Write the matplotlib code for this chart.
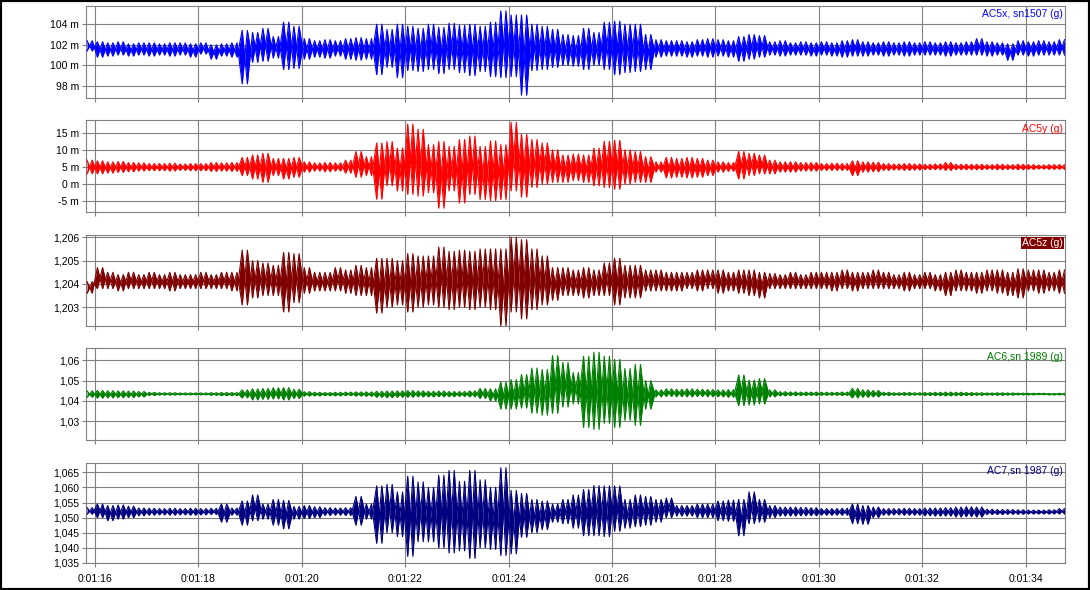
import numpy as np
import matplotlib
matplotlib.use('Agg')
import matplotlib.pyplot as plt
import matplotlib.ticker as ticker
from matplotlib.patches import Rectangle

plt.rcParams['font.family'] = ['Liberation Sans', 'DejaVu Sans']

# time of first 0.2 s bin (s), each bin holds the max / min
t0 = 75.8
bin_width = 0.2
x_ticks = [76, 78, 80, 82, 84, 86, 88, 90, 92, 94]

ac5x_hi = [102.4, 102.3, 102.2, 102.3, 102.1, 102.2, 102.2, 102.1, 102.2, 102.2,
           102.1, 102.2, 102.0, 102.1, 102.2, 103.4, 103.2, 103.6, 102.8, 104.2,
           103.8, 102.6, 102.4, 102.5, 102.4, 102.6, 102.7, 102.6, 104.0, 103.5,
           104.0, 103.8, 103.6, 104.0, 103.7, 104.1, 103.9, 104.0, 103.8, 104.2,
           105.3, 104.9, 104.9, 104.0, 103.8, 103.5, 103.0, 102.9, 103.6, 103.2,
           104.2, 104.3, 104.0, 104.0, 103.0, 102.5, 102.4, 102.4, 102.3, 102.5,
           102.6, 102.5, 102.4, 102.8, 103.0, 102.9, 102.3, 102.4, 102.2, 102.3,
           102.2, 102.3, 102.2, 102.4, 102.5, 102.3, 102.2, 102.3, 102.2, 102.3,
           102.2, 102.3, 102.2, 102.3, 102.2, 102.3, 102.6, 102.3, 102.2, 102.1,
           102.4, 102.3, 102.4, 102.3, 102.5]
ac5x_lo = [101.4, 100.8, 100.9, 101.0, 100.9, 101.0, 100.9, 101.0, 100.9, 101.0,
           100.8, 101.1, 100.6, 100.9, 100.8, 98.2, 100.3, 100.4, 100.7, 99.6,
           99.7, 100.6, 100.8, 100.7, 100.9, 100.6, 100.5, 100.6, 99.1, 99.8,
           98.8, 99.5, 99.4, 99.6, 99.2, 99.6, 99.3, 99.0, 99.4, 98.9,
           98.8, 98.9, 97.1, 99.5, 99.6, 99.8, 100.0, 99.9, 99.6, 100.0,
           99.6, 99.1, 99.3, 99.4, 99.6, 100.8, 100.9, 100.9, 100.8, 100.9,
           100.8, 100.9, 100.8, 100.4, 100.6, 100.8, 101.0, 100.9, 101.0, 101.0,
           100.9, 101.0, 100.9, 100.8, 100.9, 100.9, 101.0, 100.9, 101.0, 100.9,
           101.0, 101.0, 101.0, 100.9, 101.0, 101.0, 101.0, 100.9, 101.0, 100.5,
           101.0, 100.9, 101.0, 101.0, 101.0]

ac5y_hi = [7.0, 6.8, 6.5, 6.6, 6.3, 6.2, 6.0, 6.0, 6.1, 5.9,
           6.0, 6.0, 6.3, 6.2, 6.3, 7.8, 8.5, 9.0, 7.5, 7.5,
           7.8, 6.5, 6.2, 6.3, 6.2, 7.0, 9.5, 8.0, 12.0, 12.4,
           10.5, 17.5, 16.0, 11.5, 12.4, 11.0, 13.0, 14.0, 11.0, 12.6,
           11.5, 18.0, 14.5, 13.0, 12.0, 10.0, 8.5, 8.8, 8.5, 10.5,
           12.5, 12.8, 10.0, 9.5, 8.0, 6.5, 7.8, 7.5, 7.8, 7.5,
           7.0, 6.5, 6.3, 9.5, 9.0, 8.5, 7.0, 6.5, 6.5, 6.3,
           6.3, 6.0, 6.1, 6.0, 6.8, 6.5, 6.4, 6.0, 5.9, 6.0,
           5.9, 5.8, 5.9, 6.3, 5.8, 5.8, 5.8, 5.7, 5.8, 5.7,
           5.8, 5.7, 5.6, 5.7, 5.7]
ac5y_lo = [3.0, 3.0, 3.2, 3.4, 3.6, 3.8, 3.9, 3.9, 3.8, 4.0,
           3.9, 3.9, 3.7, 3.8, 3.7, 2.5, 1.5, 0.5, 2.5, 1.5,
           2.0, 3.5, 3.8, 3.6, 3.8, 3.2, 2.0, 2.5, -4.4, -0.5,
           -2.0, -3.0, -3.5, -2.5, -7.0, -2.0, -5.5, -3.0, -4.5, -4.8,
           -4.5, -2.0, -3.8, -1.0, 0.0, 0.5, 0.5, 1.0, 0.5, -0.5,
           -1.0, -1.5, 0.0, 0.5, 0.5, 3.5, 1.8, 2.0, 1.8, 2.0,
           2.5, 3.5, 3.7, 1.5, 2.5, 3.0, 3.0, 3.5, 3.5, 3.8,
           3.8, 4.0, 4.0, 4.0, 2.5, 3.5, 3.6, 4.0, 4.1, 4.0,
           4.1, 4.2, 4.2, 4.0, 4.2, 4.2, 4.2, 4.3, 4.2, 4.3,
           4.2, 4.3, 4.4, 4.3, 4.3]

ac5z_hi = [1.2041, 1.2047, 1.2045, 1.2044, 1.2045, 1.2044, 1.2045, 1.2044, 1.2045, 1.2044,
           1.2044, 1.2045, 1.2044, 1.2045, 1.2045, 1.20545, 1.2050, 1.2049, 1.2048, 1.20535,
           1.2053, 1.2047, 1.2045, 1.2045, 1.2047, 1.2046, 1.2048, 1.2047, 1.2051, 1.2051,
           1.2050, 1.2053, 1.2052, 1.2052, 1.20558, 1.2054, 1.20545, 1.2054, 1.2055, 1.2055,
           1.2055, 1.2060, 1.2059, 1.2055, 1.2052, 1.2047, 1.2047, 1.2046, 1.2047, 1.2046,
           1.2049, 1.2051, 1.2048, 1.2048, 1.2046, 1.2046, 1.2045, 1.2045, 1.2045, 1.2046,
           1.2046, 1.2046, 1.2045, 1.2046, 1.2046, 1.2045, 1.20445, 1.2044, 1.2045, 1.2044,
           1.2045, 1.2045, 1.2045, 1.2046, 1.2045, 1.2045, 1.2046, 1.2045, 1.2044, 1.2045,
           1.2044, 1.2045, 1.2044, 1.2045, 1.2046, 1.2045, 1.2045, 1.2046, 1.2046, 1.2045,
           1.20465, 1.2046, 1.2046, 1.2045, 1.2046]
ac5z_lo = [1.2036, 1.2038, 1.2038, 1.2037, 1.2038, 1.2038, 1.2038, 1.2038, 1.2037, 1.2038,
           1.2038, 1.2038, 1.2038, 1.2038, 1.2037, 1.2031, 1.2034, 1.2035, 1.2035, 1.2028,
           1.2032, 1.2036, 1.2037, 1.2037, 1.2037, 1.2036, 1.2035, 1.2035, 1.20275, 1.2030,
           1.2031, 1.2028, 1.2030, 1.2031, 1.2030, 1.2029, 1.2030, 1.2029, 1.2030, 1.2029,
           1.2022, 1.2028, 1.2025, 1.2029, 1.2031, 1.2033, 1.2035, 1.2035, 1.2034, 1.2035,
           1.2035, 1.2031, 1.2034, 1.2034, 1.2037, 1.2037, 1.2037, 1.2037, 1.2038, 1.2037,
           1.2038, 1.2036, 1.2037, 1.2036, 1.2035, 1.2034, 1.2038, 1.2038, 1.2038, 1.2038,
           1.2038, 1.2038, 1.2037, 1.2038, 1.2037, 1.2038, 1.2038, 1.2038, 1.2038, 1.2037,
           1.2038, 1.2038, 1.2037, 1.2035, 1.2037, 1.2037, 1.2036, 1.2037, 1.2036, 1.2035,
           1.2034, 1.2037, 1.2036, 1.2037, 1.2036]

ac6_hi = [1.0450, 1.0452, 1.0451, 1.0450, 1.0449, 1.0447, 1.0443, 1.0441, 1.0441, 1.0440,
          1.0440, 1.0440, 1.0441, 1.0442, 1.0442, 1.0455, 1.0460, 1.0462, 1.0465, 1.0466,
          1.0458, 1.0446, 1.0443, 1.0442, 1.0443, 1.0444, 1.0445, 1.0445, 1.0448, 1.0449,
          1.0450, 1.0452, 1.0450, 1.0448, 1.0449, 1.0447, 1.0447, 1.0450, 1.0462, 1.0460,
          1.0493, 1.0505, 1.0530, 1.0562, 1.0555, 1.0623, 1.0590, 1.0540, 1.0620, 1.0640,
          1.0620, 1.0605, 1.0560, 1.0580, 1.0500, 1.0455, 1.0460, 1.0458, 1.0460, 1.0458,
          1.0457, 1.0455, 1.0456, 1.0528, 1.0503, 1.0510, 1.0455, 1.0446, 1.0445, 1.0444,
          1.0444, 1.0443, 1.0443, 1.0444, 1.0462, 1.0455, 1.0452, 1.0443, 1.0441, 1.0442,
          1.0441, 1.0442, 1.0443, 1.0444, 1.0443, 1.0442, 1.0441, 1.0440, 1.0441, 1.0440,
          1.0439, 1.0438, 1.0438, 1.0437, 1.0438]
ac6_lo = [1.0418, 1.0414, 1.0415, 1.0416, 1.0417, 1.0420, 1.0427, 1.0429, 1.0429, 1.0430,
          1.0430, 1.0430, 1.0428, 1.0426, 1.0426, 1.0415, 1.0405, 1.0408, 1.0410, 1.0405,
          1.0412, 1.0424, 1.0425, 1.0426, 1.0425, 1.0426, 1.0424, 1.0423, 1.0418, 1.0416,
          1.0418, 1.0418, 1.0420, 1.0420, 1.0421, 1.0421, 1.0422, 1.0420, 1.0412, 1.0400,
          1.0360, 1.0360, 1.0365, 1.0340, 1.0330, 1.0339, 1.0370, 1.0385, 1.0270, 1.0260,
          1.0290, 1.0270, 1.0305, 1.0280, 1.0360, 1.0420, 1.0422, 1.0421, 1.0420, 1.0422,
          1.0421, 1.0420, 1.0418, 1.0377, 1.0380, 1.0385, 1.0420, 1.0425, 1.0426, 1.0427,
          1.0427, 1.0428, 1.0428, 1.0427, 1.0415, 1.0418, 1.0420, 1.0427, 1.0428, 1.0428,
          1.0429, 1.0427, 1.0426, 1.0425, 1.0426, 1.0427, 1.0428, 1.0429, 1.0428, 1.0429,
          1.0430, 1.0430, 1.0431, 1.0430, 1.0430]

ac7_hi = [1.0533, 1.0545, 1.0540, 1.0542, 1.0538, 1.0532, 1.0531, 1.0530, 1.0531, 1.0530,
          1.0531, 1.0530, 1.0531, 1.0545, 1.0532, 1.0555, 1.0575, 1.0545, 1.0560, 1.0557,
          1.0537, 1.0540, 1.0536, 1.0533, 1.0532, 1.0533, 1.0570, 1.0545, 1.0605, 1.0610,
          1.0585, 1.0637, 1.0618, 1.0600, 1.0640, 1.0656, 1.0620, 1.0656, 1.0625, 1.0600,
          1.0665, 1.0590, 1.0580, 1.0560, 1.0555, 1.0545, 1.0560, 1.0575, 1.0593, 1.0606,
          1.0605, 1.0605, 1.0560, 1.0575, 1.0570, 1.0560, 1.0565, 1.0540, 1.0540, 1.0545,
          1.0545, 1.0555, 1.0558, 1.0560, 1.0585, 1.0560, 1.0540, 1.0535, 1.0535, 1.0534,
          1.0533, 1.0530, 1.0530, 1.0531, 1.0545, 1.0540, 1.0535, 1.0530, 1.0530, 1.0531,
          1.0530, 1.0532, 1.0532, 1.0533, 1.0535, 1.0536, 1.0535, 1.0528, 1.0527, 1.0527,
          1.0526, 1.0525, 1.0525, 1.0526, 1.0530]
ac7_lo = [1.0511, 1.0500, 1.0490, 1.0495, 1.0500, 1.0506, 1.0508, 1.0509, 1.0508, 1.0509,
          1.0508, 1.0509, 1.0510, 1.0485, 1.0508, 1.0475, 1.0490, 1.0495, 1.0475, 1.0463,
          1.0495, 1.0497, 1.0500, 1.0507, 1.0508, 1.0507, 1.0475, 1.0495, 1.0415, 1.0450,
          1.0437, 1.0372, 1.0420, 1.0420, 1.0400, 1.0383, 1.0390, 1.0365, 1.0400, 1.0395,
          1.0375, 1.0380, 1.0435, 1.0450, 1.0460, 1.0485, 1.0480, 1.0465, 1.0440, 1.0440,
          1.0437, 1.0455, 1.0465, 1.0470, 1.0475, 1.0485, 1.0500, 1.0505, 1.0505, 1.0500,
          1.0500, 1.0490, 1.0488, 1.0440, 1.0480, 1.0485, 1.0500, 1.0505, 1.0505, 1.0506,
          1.0506, 1.0508, 1.0508, 1.0508, 1.0480, 1.0478, 1.0500, 1.0508, 1.0509, 1.0508,
          1.0508, 1.0506, 1.0505, 1.0505, 1.0502, 1.0503, 1.0502, 1.0510, 1.0510, 1.0511,
          1.0511, 1.0512, 1.0512, 1.0512, 1.0512]

grid_c = '#808080'


def fmt_milli(v, pos):
    return f"{v:.0f} m"


def fmt_comma(decimals):
    return lambda v, pos: f"{v:.{decimals}f}".replace('.', ',')


def fmt_time(v, pos):
    s = int(round(v))
    return f"0:{s // 60:02d}:{s % 60:02d}"


def main():

    fig = plt.figure(figsize=(10.9, 5.9), dpi=100)

    # hi, lo, colour, label, ylim, yticks, formatter, axes rect
    panels = [
        (ac5x_hi, ac5x_lo, '#0000ff', 'AC5x, sn1507 (g)', (96.8, 105.77),
         [98, 100, 102, 104], fmt_milli, [0.0789, 0.8334, 0.8982, 0.1564]),
        (ac5y_hi, ac5y_lo, '#ff0000', 'AC5y (g)', (-8.2, 18.6),
         [-5, 0, 5, 10, 15], fmt_milli, [0.0789, 0.6402, 0.8982, 0.1559]),
        (ac5z_hi, ac5z_lo, '#800000', 'AC5z (g)', (1.2022, 1.20611),
         [1.203, 1.204, 1.205, 1.206], fmt_comma(3), [0.0789, 0.4475, 0.8982, 0.1547]),
        (ac6_hi, ac6_lo, '#008000', 'AC6,sn 1989 (g)', (1.0208, 1.0659),
         [1.03, 1.04, 1.05, 1.06], fmt_comma(2), [0.0789, 0.2542, 0.8982, 0.1554]),
        (ac7_hi, ac7_lo, '#000080', 'AC7,sn 1987 (g)', (1.035, 1.06817),
         [1.035, 1.04, 1.045, 1.05, 1.055, 1.06, 1.065], fmt_comma(3),
         [0.0789, 0.0458, 0.8982, 0.1700]),
    ]

    for k, (hi, lo, c, label, ylim, yticks, yfmt, rect) in enumerate(panels):
        ax = fig.add_axes(rect)

        # max / min of each bin drawn as a dense trace: two opposite
        # zig-zags through the same samples, filled between them
        t = t0 + bin_width * np.arange(len(hi))
        x = np.empty(2 * len(hi))
        ya = np.empty(2 * len(hi))
        yb = np.empty(2 * len(hi))
        x[0::2] = t + 0.05
        x[1::2] = t + 0.15
        ya[0::2] = hi
        ya[1::2] = lo
        yb[0::2] = lo
        yb[1::2] = hi
        ax.fill_between(x, ya, yb, color=c, lw=0, zorder=2)
        ax.plot(x, ya, color=c, lw=0.8, zorder=3)
        ax.plot(x, yb, color=c, lw=0.8, zorder=3)

        ax.set_xlim(75.83, 94.76)
        ax.set_ylim(*ylim)
        ax.set_xticks(x_ticks)
        ax.set_yticks(yticks)
        ax.yaxis.set_major_formatter(ticker.FuncFormatter(yfmt))
        if k == len(panels) - 1:
            ax.xaxis.set_major_formatter(ticker.FuncFormatter(fmt_time))
        else:
            ax.set_xticklabels([])

        ax.grid(True, color=grid_c, lw=0.8)
        ax.set_axisbelow(True)
        for s in ax.spines.values():
            s.set_color(grid_c)
            s.set_linewidth(0.8)
        ax.tick_params(direction='out', length=3, width=0.8, color=grid_c,
                       labelsize=7.5, pad=2)
        ax.tick_params(axis='x', pad=5)

        if label == 'AC5z (g)':
            ax.text(0.998, 0.965, label, transform=ax.transAxes, ha='right', va='top',
                    color='white', fontsize=7.5, zorder=5,
                    bbox=dict(facecolor=c, edgecolor='none', pad=0.6))
        else:
            ax.text(0.998, 0.965, label, transform=ax.transAxes, ha='right', va='top',
                    color=c, fontsize=7.5, zorder=5)

    fig.patches.append(Rectangle((0, 0), 1, 1, transform=fig.transFigure, fill=False,
                                 edgecolor='black', lw=3))

    fig.savefig('out.png', dpi=100)

    return True


if __name__ == "__main__":

    main()
